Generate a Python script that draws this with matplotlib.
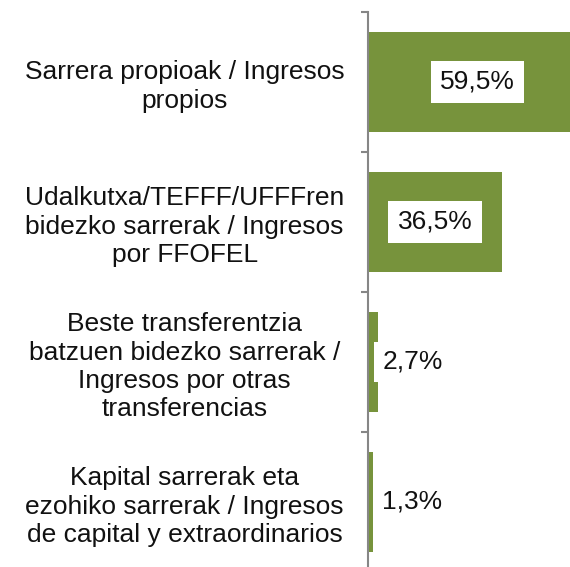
import matplotlib.pyplot as plt
from matplotlib.ticker import FixedLocator

plt.rcParams['font.family'] = ['Liberation Sans', 'DejaVu Sans']

categories = [
    "Sarrera propioak / Ingresos\npropios",
    "Udalkutxa/TEFFF/UFFFren\nbidezko sarrerak / Ingresos\npor FFOFEL",
    "Beste transferentzia\nbatzuen bidezko sarrerak /\nIngresos por otras\ntransferencias",
    "Kapital sarrerak eta\nezohiko sarrerak / Ingresos\nde capital y extraordinarios",
]
values = [59.5, 36.5, 2.7, 1.3]
value_labels = ["59,5%", "36,5%", "2,7%", "1,3%"]

green = "#77933C"
grey = "#868686"
txt = "#111111"

fig = plt.figure(figsize=(5.7, 5.67), dpi=100)
ax = fig.add_axes([368 / 570, -5 / 567, 1 - 368 / 570, 560 / 567])

pos = list(range(len(values)))
ax.barh(pos, values, height=0.72, color=green)
ax.set_xlim(0, 55)
ax.set_ylim(3.5, -0.5)

for s in ['top', 'right', 'bottom']:
    ax.spines[s].set_visible(False)
ax.spines['left'].set_color(grey)
ax.spines['left'].set_linewidth(1.5)
ax.set_xticks([])

ax.set_yticks(pos)
ax.set_yticklabels(categories, ha='center', multialignment='center',
                   fontsize=19, linespacing=1.22, color=txt)
ax.tick_params(axis='y', which='major', length=0, pad=132)
ax.yaxis.set_minor_locator(FixedLocator([p - 0.5 for p in pos] + [3.5]))
ax.tick_params(axis='y', which='minor', length=5, width=1.5, color=grey)

for i, (v, lab) in enumerate(zip(values, value_labels)):
    if v > 10:
        ax.text(v / 2, i, lab, ha='center', va='center', fontsize=19,
                color=txt,
                bbox=dict(boxstyle='square,pad=0.35', fc='white', ec='none'))
    else:
        ax.text(3.85, i, lab, ha='left', va='center', fontsize=19,
                color=txt,
                bbox=dict(boxstyle='square,pad=0.3', fc='white', ec='none'))

fig.savefig('out.png', dpi=100)
